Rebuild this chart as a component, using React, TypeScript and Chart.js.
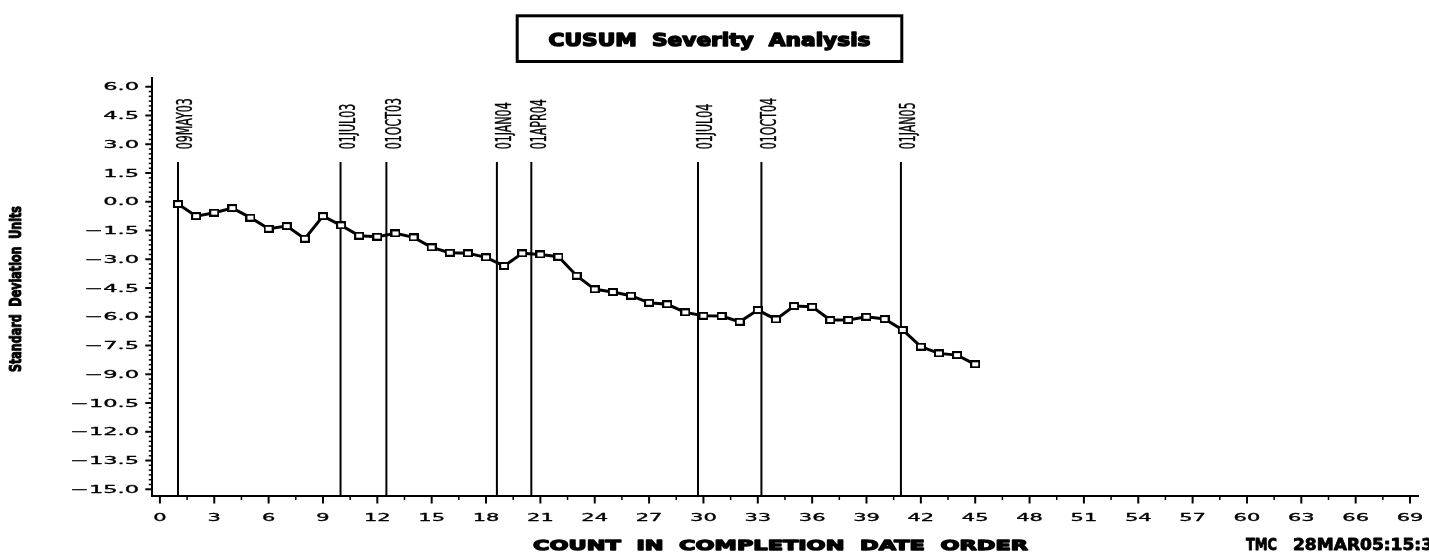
import React, { useEffect, useRef } from "react";
import { Chart, registerables } from "chart.js";

Chart.register(...registerables);

// ---------- data ----------
const countOrder = [
  1, 2, 3, 4, 5, 6, 7, 8, 9, 10, 11, 12, 13, 14, 15, 16, 17, 18, 19, 20, 21, 22, 23,
  24, 25, 26, 27, 28, 29, 30, 31, 32, 33, 34, 35, 36, 37, 38, 39, 40, 41, 42, 43, 44, 45,
];
const cusumValues = [
  -0.12, -0.75, -0.57, -0.33, -0.83, -1.41, -1.27, -1.93, -0.75, -1.23, -1.77, -1.82,
  -1.65, -1.86, -2.38, -2.66, -2.69, -2.9, -3.35, -2.69, -2.75, -2.87, -3.86, -4.57,
  -4.71, -4.9, -5.27, -5.35, -5.77, -5.95, -5.96, -6.26, -5.65, -6.14, -5.44, -5.48,
  -6.17, -6.17, -6.0, -6.12, -6.69, -7.56, -7.91, -8.0, -8.48,
];
const refDateLabels = ["09MAY03", "01JUL03", "01OCT03", "01JAN04", "01APR04", "01JUL04", "01OCT04", "01JAN05"];
const refDatePositions = [1, 9.97, 12.5, 18.6, 20.5, 29.7, 33.2, 40.9];
const refLineTop = 2.07;

const xTickValues = [0, 3, 6, 9, 12, 15, 18, 21, 24, 27, 30, 33, 36, 39, 42, 45, 48, 51, 54, 57, 60, 63, 66, 69];
const xTickLabels = xTickValues.map((v) => String(v));
const yTickValues = [6, 4.5, 3, 1.5, 0, -1.5, -3, -4.5, -6, -7.5, -9, -10.5, -12, -13.5, -15];
const yTickLabels = [
  "6.0", "4.5", "3.0", "1.5", "0.0", "\u22121.5", "\u22123.0", "\u22124.5", "\u22126.0",
  "\u22127.5", "\u22129.0", "\u221210.5", "\u221212.0", "\u221213.5", "\u221215.0",
];

const chartTitle = "CUSUM  Severity  Analysis";
const xAxisTitle = "COUNT  IN  COMPLETION  DATE  ORDER";
const yAxisTitle = "Standard  Deviation  Units";
const footerId = "TMC";
const footerStamp = "28MAR05:15:3";

// ---------- helpers ----------
function drawScaled(
  ctx: CanvasRenderingContext2D,
  text: string,
  x: number,
  y: number,
  font: string,
  sx: number,
  align: CanvasTextAlign,
  angle = 0,
  stroke = 0
) {
  ctx.save();
  ctx.font = font;
  ctx.translate(x, y);
  if (angle) ctx.rotate(angle);
  ctx.scale(sx, 1);
  ctx.textAlign = align;
  ctx.textBaseline = "alphabetic";
  ctx.fillStyle = "#000";
  ctx.fillText(text, 0, 0);
  if (stroke > 0) {
    ctx.strokeStyle = "#000";
    ctx.lineWidth = stroke;
    ctx.lineJoin = "round";
    ctx.strokeText(text, 0, 0);
  }
  ctx.restore();
}

function drawToWidth(
  ctx: CanvasRenderingContext2D,
  text: string,
  x: number,
  y: number,
  font: string,
  width: number,
  align: CanvasTextAlign,
  angle = 0,
  stroke = 0
) {
  ctx.save();
  ctx.font = font;
  const w = ctx.measureText(text).width || 1;
  ctx.restore();
  drawScaled(ctx, text, x, y, font, width / w, align, angle, stroke);
}

function makeMarker(): HTMLCanvasElement {
  const c = document.createElement("canvas");
  c.width = 10;
  c.height = 8;
  const g = c.getContext("2d")!;
  g.fillStyle = "#fff";
  g.fillRect(1, 1, 8, 6);
  g.strokeStyle = "#000";
  g.lineWidth = 2;
  g.strokeRect(1, 1, 8, 6);
  return c;
}

const TICK_FONT = '10px "DejaVu Sans", sans-serif';
const NARROW_FONT = '"Liberation Sans Narrow", "DejaVu Sans Condensed", "Liberation Sans", sans-serif';

const decorPlugin = {
  id: "decor",
  afterDraw(chart: any) {
    const ctx: CanvasRenderingContext2D = chart.ctx;
    const xs = chart.scales.x;
    const ys = chart.scales.y;
    const area = chart.chartArea;
    const axisX = area.left;
    const axisY = area.bottom;
    ctx.save();
    ctx.strokeStyle = "#000";
    ctx.fillStyle = "#000";

    // y ticks (major + minor)
    for (let v = -15; v <= 6.001; v += 0.25) {
      const py = ys.getPixelForValue(v);
      const major = Math.abs(v / 1.5 - Math.round(v / 1.5)) < 1e-6;
      ctx.beginPath();
      ctx.moveTo(axisX - (major ? 7 : 3.5), py);
      ctx.lineTo(axisX, py);
      ctx.lineWidth = major ? 2 : 1.5;
      ctx.stroke();
    }
    yTickValues.forEach((v, i) => {
      const py = ys.getPixelForValue(v);
      drawScaled(ctx, yTickLabels[i], 139, py + 3.65, TICK_FONT, 2.25, "right", 0, 0.3);
    });

    // x ticks (major + minor)
    for (let v = 0; v <= 69.001; v += 1.5) {
      const px = xs.getPixelForValue(v);
      const major = Math.abs(v / 3 - Math.round(v / 3)) < 1e-6;
      ctx.beginPath();
      ctx.moveTo(px, axisY);
      ctx.lineTo(px, axisY + (major ? 7.5 : 4));
      ctx.lineWidth = major ? 2 : 1.5;
      ctx.stroke();
    }
    xTickValues.forEach((v, i) => {
      const px = xs.getPixelForValue(v);
      drawScaled(ctx, xTickLabels[i], px, 521, TICK_FONT, 2.1, "center", 0, 0.3);
    });

    // reference date labels
    const refFont = "21px " + NARROW_FONT;
    ctx.font = refFont;
    const baseW = ctx.measureText(refDateLabels[0]).width || 1;
    const refSx = 51 / baseW;
    refDatePositions.forEach((v, i) => {
      const px = xs.getPixelForValue(v);
      drawScaled(ctx, refDateLabels[i], px + 14.3, 149.3, refFont, refSx, "left", -Math.PI / 2, 0.4);
    });

    // title box
    ctx.lineWidth = 3;
    ctx.strokeRect(517.2, 15.8, 901.8 - 517.2, 61.5 - 15.8);
    drawToWidth(ctx, chartTitle, 709.5, 45.7, '700 17px "DejaVu Sans", sans-serif', 322, "center", 0, 1.4);

    // axis titles
    drawToWidth(ctx, xAxisTitle, 533, 550, '700 14.5px "DejaVu Sans", sans-serif', 495, "left", 0, 1.3);
    drawToWidth(ctx, yAxisTitle, 20.7, 289, "700 15px " + NARROW_FONT, 166, "center", -Math.PI / 2, 1.0);

    // footer
    drawToWidth(ctx, footerId, 1246, 550, '700 15px "DejaVu Sans", sans-serif', 31, "left", 0, 0.8);
    drawToWidth(ctx, footerStamp, 1293, 550, "700 16px " + NARROW_FONT, 140, "left", 0, 0.8);

    ctx.restore();
  },
};

export default function App() {
  const ref = useRef<HTMLCanvasElement | null>(null);

  useEffect(() => {
    document.body.style.margin = "0";
    document.body.style.background = "#fff";
    const canvas = ref.current;
    if (!canvas) return;
    const marker = makeMarker();

    const mainData = countOrder.map((c, i) => ({ x: c, y: cusumValues[i] }));
    const refSets = refDatePositions.map((v) => ({
      data: [
        { x: v, y: refLineTop },
        { x: v, y: -15.35 },
      ],
      showLine: true,
      borderColor: "#000",
      borderWidth: 2,
      pointRadius: 0,
      pointHoverRadius: 0,
      order: 2,
    }));

    const chart = new Chart(canvas, {
      type: "scatter",
      data: {
        datasets: [
          {
            data: mainData,
            showLine: true,
            borderColor: "#000",
            borderWidth: 3,
            pointStyle: marker as any,
            pointRadius: 5,
            pointHoverRadius: 5,
            tension: 0,
            order: 1,
          } as any,
          ...(refSets as any[]),
        ],
      },
      options: {
        animation: false,
        responsive: false,
        devicePixelRatio: 1,
        events: [],
        layout: { padding: { left: 152.3, right: 11, top: 78.3, bottom: 59 } },
        plugins: { legend: { display: false }, tooltip: { enabled: false }, title: { display: false } },
        scales: {
          x: {
            type: "linear",
            min: -0.42,
            max: 69.44,
            grid: { display: false, drawTicks: false },
            border: { display: true, color: "#000", width: 2 },
            ticks: { display: false },
            afterFit: (s: any) => {
              s.height = 0;
            },
          },
          y: {
            type: "linear",
            min: -15.35,
            max: 6.44,
            grid: { display: false, drawTicks: false },
            border: { display: true, color: "#000", width: 2 },
            ticks: { display: false },
            afterFit: (s: any) => {
              s.width = 0;
            },
          },
        },
      } as any,
      plugins: [decorPlugin],
    });
    return () => chart.destroy();
  }, []);

  return (
    <div style={{ width: 1429, height: 555, background: "#fff" }}>
      <canvas ref={ref} width={1429} height={555} style={{ display: "block" }} />
    </div>
  );
}
